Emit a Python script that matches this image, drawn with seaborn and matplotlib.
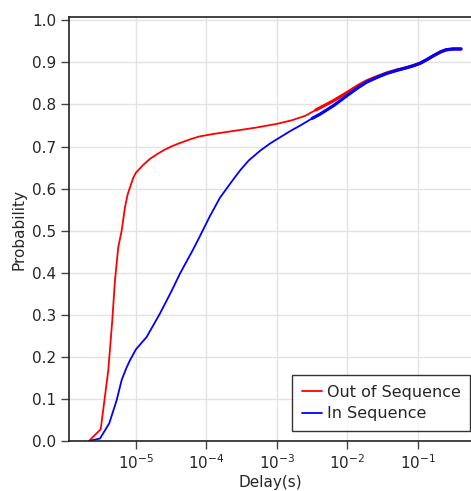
import numpy as np
import pandas as pd
import matplotlib
matplotlib.use("Agg")
import matplotlib.pyplot as plt
import seaborn as sns

# Delay CDF points: log10 of delay in seconds and cumulative probability
out_log_delay = [-5.667, -5.50, -5.393, -5.336, -5.298, -5.251, -5.203, -5.156, -5.12,
                 -5.085, -5.04, -5.0, -4.9, -4.8, -4.7, -4.6, -4.5, -4.4, -4.3, -4.2,
                 -4.1, -3.9, -3.7, -3.5, -3.3, -3.1, -3.0, -2.8, -2.6, -2.45, -2.3,
                 -2.2, -2.0, -1.85, -1.73, -1.6, -1.44, -1.3, -1.15, -1.07, -0.97,
                 -0.87, -0.78, -0.68, -0.60, -0.5, -0.39]
out_prob = [0.0, 0.028, 0.168, 0.287, 0.382, 0.461, 0.50, 0.556, 0.585,
            0.603, 0.625, 0.638, 0.656, 0.671, 0.682, 0.692, 0.700, 0.707, 0.713, 0.719,
            0.724, 0.730, 0.735, 0.740, 0.745, 0.751, 0.754, 0.762, 0.773, 0.787, 0.800,
            0.809, 0.829, 0.845, 0.856, 0.865, 0.875, 0.882, 0.888, 0.892, 0.898,
            0.907, 0.916, 0.925, 0.930, 0.932, 0.932]

in_log_delay = [-5.667, -5.51, -5.379, -5.274, -5.203, -5.14, -5.085, -5.0, -4.85, -4.66,
                -4.5, -4.376, -4.2, -4.099, -3.95, -3.81, -3.65, -3.525, -3.4, -3.24,
                -3.1, -2.995, -2.8, -2.67, -2.5, -2.39, -2.2, -2.0, -1.85, -1.73, -1.6,
                -1.44, -1.3, -1.15, -1.07, -0.97, -0.87, -0.78, -0.68, -0.60, -0.5, -0.39]
in_prob = [0.0, 0.006, 0.042, 0.097, 0.145, 0.172, 0.192, 0.218, 0.247, 0.303,
           0.355, 0.398, 0.452, 0.485, 0.535, 0.578, 0.615, 0.643, 0.667, 0.69,
           0.707, 0.718, 0.738, 0.75, 0.767, 0.777, 0.797, 0.822, 0.840, 0.853, 0.863,
           0.874, 0.881, 0.888, 0.892, 0.898, 0.907, 0.916, 0.925, 0.930, 0.932, 0.932]

series_names = ["Out of Sequence", "In Sequence"]
series_colors = ["red", "blue"]
prob_ticks = [0.0, 0.1, 0.2, 0.3, 0.4, 0.5, 0.6, 0.7, 0.8, 0.9, 1.0]
delay_ticks = [1e-5, 1e-4, 1e-3, 1e-2, 1e-1]

df = pd.concat([
    pd.DataFrame({"delay": 10 ** np.array(out_log_delay), "prob": out_prob, "kind": series_names[0]}),
    pd.DataFrame({"delay": 10 ** np.array(in_log_delay), "prob": in_prob, "kind": series_names[1]}),
], ignore_index=True)

sns.set_style("whitegrid")
plt.rcParams["font.family"] = ["DejaVu Sans"]

fig = plt.figure(figsize=(4.71, 4.91), dpi=100)
ax = fig.add_axes([69 / 471, 50 / 491, 1 - 69 / 471, (441 - 17) / 491])

sns.lineplot(data=df, x="delay", y="prob", hue="kind", hue_order=series_names,
             palette=series_colors, estimator=None, sort=False, linewidth=1.3, ax=ax)

# the dense tail of the distribution renders as a heavier stroke
tail = df[df["delay"] >= 10 ** -2.5]
sns.lineplot(data=tail, x="delay", y="prob", hue="kind", hue_order=series_names,
             palette=series_colors, estimator=None, sort=False, linewidth=2.3,
             legend=False, ax=ax)

ax.set_xscale("log")
ax.set_xlim(10 ** -5.95, 10 ** -0.248)
ax.set_ylim(0, 1.008)
ax.set_yticks(prob_ticks)
ax.set_yticklabels([f"{v:.1f}" for v in prob_ticks])
ax.set_xticks(delay_ticks)
ax.xaxis.set_minor_locator(matplotlib.ticker.NullLocator())

ax.set_xlabel("Delay(s)", fontsize=11, labelpad=2)
ax.set_ylabel("Probability", fontsize=11, labelpad=4)
ax.tick_params(axis="both", which="major", labelsize=11, length=6, width=1,
               direction="out", bottom=True, left=True, color="#444444", pad=3)

ax.grid(True, color="#e3e3e3", linewidth=1)
for side in ["left", "bottom", "top"]:
    ax.spines[side].set_visible(True)
    ax.spines[side].set_color("#222222")
    ax.spines[side].set_linewidth(1.2)
ax.spines["right"].set_visible(False)

leg = ax.legend(loc="lower right", bbox_to_anchor=(470 / 471, 60 / 491),
                bbox_transform=fig.transFigure, borderaxespad=0,
                fontsize=11.5, frameon=True, fancybox=False,
                edgecolor="black", handlelength=1.25, handletextpad=0.3,
                borderpad=0.6, labelspacing=0.4)
leg.set_title(None)
leg.get_frame().set_linewidth(1.0)

fig.savefig("out.png", dpi=100)
